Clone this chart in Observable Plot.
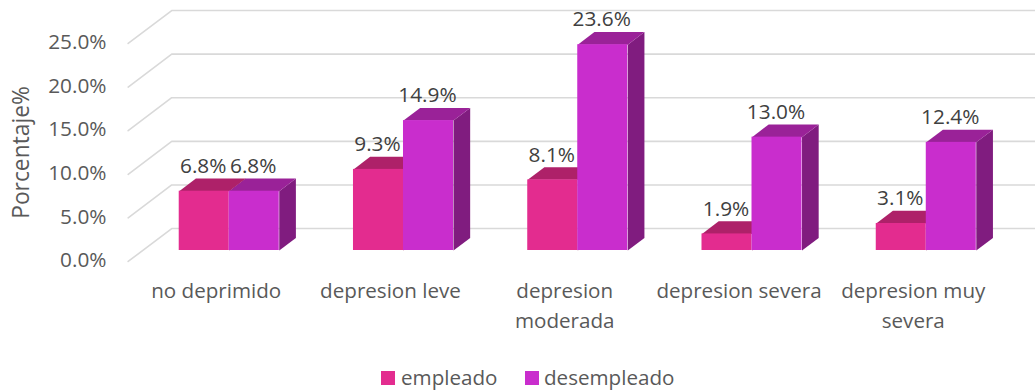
<!DOCTYPE html>
<html lang="es">
<head>
<meta charset="utf-8">
<script src="https://cdn.jsdelivr.net/npm/d3@7"></script>
<script src="https://cdn.jsdelivr.net/npm/@observablehq/plot@0.6"></script>
<style>
  html, body { margin: 0; padding: 0; background: #fff; }
  #chart svg { display: block; overflow: hidden; }
  #legend {
    position: relative; height: 30px;
    font: 20.6px "Open Sans", sans-serif; color: #595959;
  }
  #legend span { position: absolute; top: 1.5px; white-space: nowrap; line-height: 26px; }
  #legend i { position: absolute; top: 9px; width: 14px; height: 14px; }
</style>
</head>
<body>
<div id="chart"></div>
<div id="legend"></div>
<script>
// Depression level by employment status
const categories = ["no deprimido", "depresion leve", "depresion\nmoderada", "depresion severa", "depresion muy\nsevera"];
const empleado = [6.8, 9.3, 8.1, 1.9, 3.1];
const desempleado = [6.8, 14.9, 23.6, 13.0, 12.4];
const yTicks = [0, 5, 10, 15, 20, 25];

// Oblique projection, in scale units: one unit of depth moves this far along x and y
const depthX = 0.0956, depthY = 1.445;
const halfGroup = 0.287;
const font = '"Open Sans", sans-serif';

const series = [
  {name: "empleado", values: empleado, from: -halfGroup, to: 0, front: "#E32C8F", top: "#AE2169", side: "#8A1A55"},
  {name: "desempleado", values: desempleado, from: 0, to: halfGroup, front: "#C92DCD", top: "#9A2298", side: "#801C7F"}
];

// Closed outline of the side face of one bar
const sideFace = (s) => s.values.flatMap((v, i) => [
  {id: i, x: i + s.to, y: 0},
  {id: i, x: i + s.to + depthX, y: depthY},
  {id: i, x: i + s.to + depthX, y: v + depthY},
  {id: i, x: i + s.to, y: v}
]);

// Closed outline of the top face of one bar
const topFace = (s) => s.values.flatMap((v, i) => [
  {id: i, x: i + s.from, y: v},
  {id: i, x: i + s.to, y: v},
  {id: i, x: i + s.to + depthX, y: v + depthY},
  {id: i, x: i + s.from + depthX, y: v + depthY}
]);

// Floor-to-wall gridlines: a slanted run on the floor, then along the back wall
const lastGroup = categories.length - 1;
const gridRows = yTicks.flatMap((t) => [
  {t, x: -0.5 - 0.08, y: t - 1.26},
  {t, x: -0.5 + 0.17, y: t + 2.52},
  {t, x: lastGroup + 0.5 + 0.17, y: t + 2.52}
]);

const barMarks = series.flatMap((s) => [
  Plot.line(sideFace(s), {x: "x", y: "y", z: "id", fill: s.side, stroke: "none"}),
  Plot.line(topFace(s), {x: "x", y: "y", z: "id", fill: s.top, stroke: "none"}),
  Plot.rect(s.values, {
    x1: (d, i) => i + s.from,
    x2: (d, i) => i + s.to,
    y1: 0,
    y2: (d) => d,
    fill: s.front
  })
]);

const valueLabels = series.map((s) =>
  Plot.text(s.values, {
    x: (d, i) => i + (s.from + s.to) / 2,
    y: (d) => d,
    text: (d) => d.toFixed(1) + "%",
    dx: -1,
    dy: -25,
    fontFamily: font,
    fontSize: 20.8,
    fill: "#404040"
  })
);

const chart = Plot.plot({
  width: 1035,
  height: 362,
  marginTop: 32,
  marginBottom: 112,
  marginLeft: 110,
  marginRight: 0,
  x: {domain: [-0.5, lastGroup + 0.5], range: [141.6, 1012.9], axis: null},
  y: {domain: [0, 25], axis: null},
  marks: [
    Plot.line(gridRows, {x: "x", y: "y", z: "t", stroke: "#D9D9D9", strokeWidth: 1.6}),
    ...barMarks,
    ...valueLabels,
    Plot.axisY(yTicks, {
      tickSize: 0,
      tickPadding: 4,
      label: null,
      dy: 10,
      tickFormat: (d) => d.toFixed(1) + "%",
      fontFamily: font,
      fontSize: 20.8,
      fill: "#595959"
    }),
    Plot.text(["Porcentaje%"], {
      frameAnchor: "left",
      textAnchor: "middle",
      rotate: -90,
      dx: -89,
      dy: 11,
      fontFamily: font,
      fontSize: 22.8,
      fill: "#595959"
    }),
    Plot.text(categories, {
      x: (d, i) => i,
      frameAnchor: "bottom",
      lineAnchor: "top",
      lineHeight: 1.46,
      dx: -13,
      dy: 26,
      fontFamily: font,
      fontSize: 20.6,
      fill: "#595959"
    })
  ]
});
document.getElementById("chart").append(chart);

// Legend row below the plot
const legendSpots = [{swatch: 381, label: 401}, {swatch: 525, label: 544}];
const legend = document.getElementById("legend");
series.forEach((s, i) => {
  const swatch = document.createElement("i");
  swatch.style.left = legendSpots[i].swatch + "px";
  swatch.style.background = s.front;
  const label = document.createElement("span");
  label.style.left = legendSpots[i].label + "px";
  label.textContent = s.name;
  legend.append(swatch, label);
});
</script>
</body>
</html>
